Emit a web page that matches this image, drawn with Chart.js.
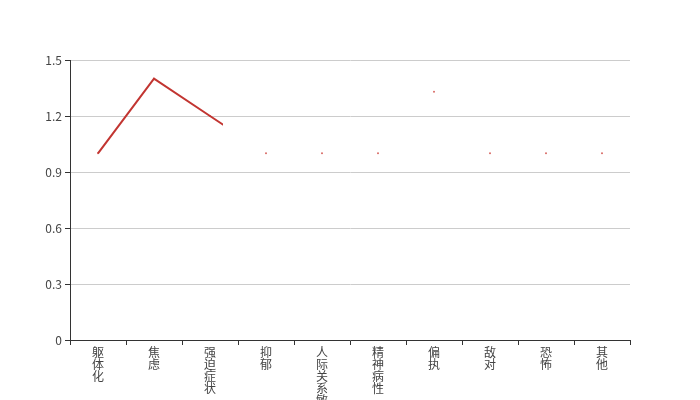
<!DOCTYPE html>
<html lang="zh">
  <head>
    <meta charset="UTF-8" />
    <title>因子得分</title>
    <script src="https://cdn.jsdelivr.net/npm/chart.js"></script>
    <style>
      body {
        margin: 0;
        padding: 0;
        background: #fff;
      }
      #wrap {
        width: 700px;
        height: 400px;
      }
    </style>
  </head>
  <body>
    <div id="wrap"><canvas id="chart" width="700" height="400"></canvas></div>

    <script>
      const categories = ["躯体化", "焦虑", "强迫症状", "抑郁", "人际关系敏感", "精神病性", "偏执", "敌对", "恐怖", "其他"];
      const scores = [1.0, 1.4, 1.2, 1.0, 1.0, 1.0, 1.33, 1.0, 1.0, 1.0];
      const yTicks = [0, 0.3, 0.6, 0.9, 1.2, 1.5];

      // the snapshot caught the line half drawn: it only reaches a bit past the 3rd category
      const revealTo = 2.23;

      const font = { family: "'Noto Sans CJK SC', 'DejaVu Sans', sans-serif", size: 12 };

      const revealClip = {
        id: "revealClip",
        beforeDatasetDraw(chart, args) {
          if (args.index !== 0) return;
          const area = chart.chartArea;
          const right = chart.scales.x.getPixelForValue(revealTo);
          const ctx = chart.ctx;
          ctx.save();
          ctx.beginPath();
          ctx.rect(area.left, 0, right - area.left, chart.height);
          ctx.clip();
        },
        afterDatasetDraw(chart, args) {
          if (args.index !== 0) return;
          chart.ctx.restore();
        },
      };

      new Chart(document.getElementById("chart").getContext("2d"), {
        type: "line",
        plugins: [revealClip],
        data: {
          // vertical text: one character per line
          labels: categories.map((c) => c.split("")),
          datasets: [
            {
              data: scores,
              borderColor: "#c23531",
              borderWidth: 2,
              pointRadius: 0,
              tension: 0,
              clip: false,
            },
            {
              data: scores,
              showLine: false,
              pointRadius: 1,
              pointBorderWidth: 0,
              pointBackgroundColor: "#d96a66",
            },
          ],
        },
        options: {
          responsive: false,
          animation: false,
          layout: { padding: { top: 60, right: 70, left: 0, bottom: 0 } },
          plugins: { legend: { display: false }, tooltip: { enabled: false } },
          scales: {
            x: {
              offset: true,
              afterFit: (s) => {
                s.height = 60;
              },
              border: { color: "#333", width: 1 },
              grid: {
                offset: true,
                drawOnChartArea: false,
                drawTicks: true,
                tickLength: 5,
                tickColor: "#333",
              },
              ticks: {
                maxRotation: 0,
                autoSkip: false,
                padding: 1,
                color: "#444",
                font: { ...font, lineHeight: 1.0 },
              },
            },
            y: {
              min: 0,
              max: 1.5,
              afterFit: (s) => {
                s.width = 70;
              },
              afterBuildTicks: (s) => {
                s.ticks = yTicks.map((v) => ({ value: v }));
              },
              border: { color: "#333", width: 1 },
              grid: {
                color: "#ccc",
                tickColor: "#333",
                tickLength: 5,
              },
              ticks: {
                padding: 3,
                color: "#444",
                font: font,
                callback: (v) => String(Math.round(v * 10) / 10),
              },
            },
          },
        },
      });
    </script>
  </body>
</html>
